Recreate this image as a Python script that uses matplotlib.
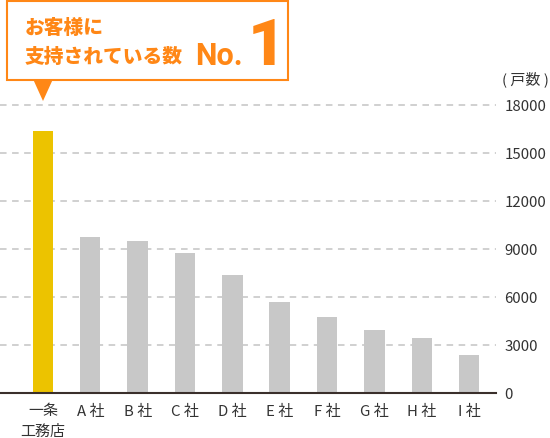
import matplotlib
matplotlib.use("Agg")
import matplotlib.pyplot as plt
from matplotlib.patches import Rectangle, Polygon

plt.rcParams['font.family'] = ['Noto Sans CJK JP', 'DejaVu Sans']

# 戸数
companies = ['一条\n工務店', 'A 社', 'B 社', 'C 社', 'D 社', 'E 社', 'F 社', 'G 社', 'H 社', 'I 社']
units = [16400, 9800, 9500, 8750, 7400, 5700, 4750, 3950, 3450, 2400]
yticks = [0, 3000, 6000, 9000, 12000, 15000, 18000]

orange = '#ff8716'
gray_bar = '#c8c8c8'
yellow = '#ecc300'
txt = '#333333'

W, H = 550, 438
fig = plt.figure(figsize=(W / 100, H / 100), dpi=100)
ax = fig.add_axes([0, 1 - 393.3 / H, 496 / W, (393.3 - 105.3) / H])

colors = [yellow] + [gray_bar] * (len(units) - 1)
x = list(range(len(units)))
ax.bar(x, units, width=0.43, color=colors, zorder=3)

for v in yticks[1:]:
    ln = ax.axhline(v, color='#c4c4c4', lw=1.1, zorder=1, clip_on=False)
    ln.set_dashes((4.3, 3.6))

ax.set_xlim(-0.908, 9.57)
ax.set_ylim(0, 18000)
for s in ['top', 'left', 'right']:
    ax.spines[s].set_visible(False)
ax.spines['bottom'].set_color('#3a2f2b')
ax.spines['bottom'].set_linewidth(1.5)
ax.spines['bottom'].set_zorder(4)

ax.set_xticks(x)
ax.set_xticklabels(companies, fontsize=10.8, color=txt, linespacing=1.6, va='top')
ax.tick_params(axis='x', length=0, pad=8)
ax.yaxis.tick_right()
ax.set_yticks(yticks)
ax.set_yticklabels([str(v) for v in yticks], fontsize=10.8, color=txt)
ax.tick_params(axis='y', length=0, pad=6)

# overlay in pixel coordinates for the callout
ov = fig.add_axes([0, 0, 1, 1])
ov.set_xlim(0, W)
ov.set_ylim(H, 0)
ov.axis('off')
ov.patch.set_alpha(0)

ov.text(549, 79, '( 戸数 )', fontsize=10.8, color=txt, ha='right', va='center')

ov.add_patch(Rectangle((7, 1), 281, 79, facecolor='white', edgecolor=orange, lw=1.5))
ov.add_patch(Polygon([(33, 79), (53, 79), (43, 101)], closed=True, facecolor=orange, edgecolor='none'))
ov.text(25, 28, 'お客様に', fontsize=14.2, fontweight='heavy', color=orange, ha='left', va='center')
ov.text(25, 57, '支持されている数', fontsize=14.2, fontweight='heavy', color=orange, ha='left', va='center')
ov.text(195, 65, 'No.', fontsize=22, fontweight='bold', color=orange, ha='left', va='baseline',
        family=['Roboto', 'DejaVu Sans'])
ov.text(248, 65, '1', fontsize=47, fontweight='black', color=orange, ha='left', va='baseline',
        family=['Roboto', 'DejaVu Sans'])

fig.savefig('out.png', dpi=100)
